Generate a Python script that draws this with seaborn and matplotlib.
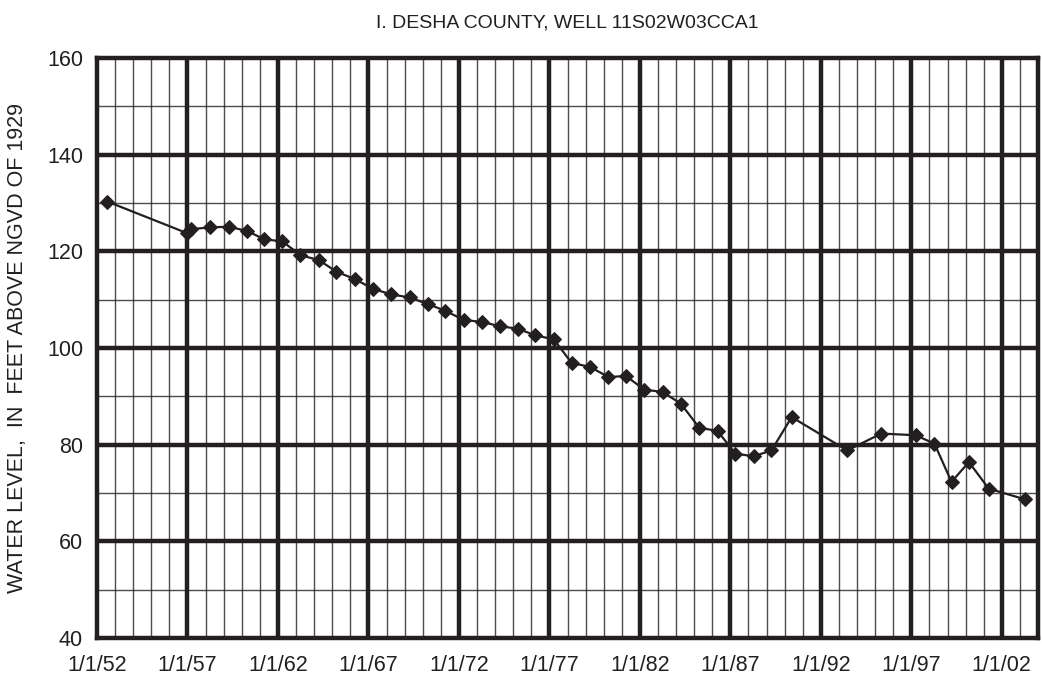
import matplotlib
matplotlib.use("Agg")
import matplotlib.pyplot as plt
import seaborn as sns
import pandas as pd
import numpy as np

# Data (decimal years, water level in feet above NGVD of 1929)
years = [1952.57, 1956.95, 1957.2, 1958.27, 1959.28, 1960.3, 1961.24, 1962.25,
         1963.24, 1964.25, 1965.23, 1966.28, 1967.27, 1968.26, 1969.27, 1970.28,
         1971.24, 1972.27, 1973.26, 1974.27, 1975.25, 1976.23, 1977.24, 1978.23,
         1979.24, 1980.26, 1981.23, 1982.24, 1983.25, 1984.26, 1985.28, 1986.29,
         1987.27, 1988.28, 1989.27, 1990.39, 1993.46, 1995.34, 1997.24, 1998.28,
         1999.22, 2000.18, 2001.28, 2003.27]
levels = [130.3, 123.8, 124.6, 124.95, 125.1, 124.2, 122.5, 122.05,
          119.2, 118.2, 115.8, 114.2, 112.2, 111.1, 110.45, 109.1,
          107.7, 105.8, 105.4, 104.5, 104.0, 102.6, 101.8, 96.9,
          96.1, 94.0, 94.2, 91.4, 90.9, 88.5, 83.5, 82.85,
          78.15, 77.6, 78.8, 85.7, 78.8, 82.3, 81.95, 80.2,
          72.3, 76.4, 70.9, 68.7]
tick_years = [1952, 1957, 1962, 1967, 1972, 1977, 1982, 1987, 1992, 1997, 2002]
tick_labels = ["1/1/52", "1/1/57", "1/1/62", "1/1/67", "1/1/72", "1/1/77",
               "1/1/82", "1/1/87", "1/1/92", "1/1/97", "1/1/02"]
y_ticks = [40, 60, 80, 100, 120, 140, 160]

title = "I. DESHA COUNTY, WELL 11S02W03CCA1"
ylabel = "WATER LEVEL,  IN  FEET ABOVE NGVD OF 1929"

sns.set_style("white")
plt.rcParams["font.family"] = ["Liberation Sans", "DejaVu Sans"]

df = pd.DataFrame({"year": years, "level": levels})

fig = plt.figure(figsize=(10.42, 6.86), dpi=100)
ax = fig.add_axes([97/1042, 1 - 638/686, (1038 - 97)/1042, (638 - 58)/686])

ink = "#231f20"

# grid
for yr in range(1953, 2004):
    if (yr - 1952) % 5 == 0:
        ax.axvline(yr, color=ink, lw=3.2, zorder=1)
    else:
        ax.axvline(yr, color=ink, lw=1.0, alpha=0.8, zorder=1)
for v in range(50, 160, 10):
    if v % 20 == 0:
        ax.axhline(v, color=ink, lw=3.2, zorder=1)
    else:
        ax.axhline(v, color=ink, lw=1.0, alpha=0.8, zorder=1)

sns.lineplot(data=df, x="year", y="level", ax=ax, color=ink, lw=1.6,
             marker="D", markersize=7, markeredgecolor=ink, markerfacecolor=ink,
             zorder=3)

ax.set_xlim(1952, 2004)
ax.set_ylim(40, 160)
ax.set_xticks(tick_years)
ax.set_xticklabels(tick_labels)
ax.set_yticks(y_ticks)
ax.tick_params(axis="both", length=0, labelsize=15.5, colors=ink)
ax.tick_params(axis="x", pad=12)
ax.tick_params(axis="y", pad=10)
for s in ax.spines.values():
    s.set_linewidth(3.2)
    s.set_color(ink)
    s.set_visible(True)
    s.set_zorder(4)

ax.set_xlabel("")
ax.set_ylabel(ylabel, fontsize=15.5, color=ink, labelpad=14)
ax.set_title(title, fontsize=14, color=ink, pad=22)

fig.savefig("out.png", dpi=100)
